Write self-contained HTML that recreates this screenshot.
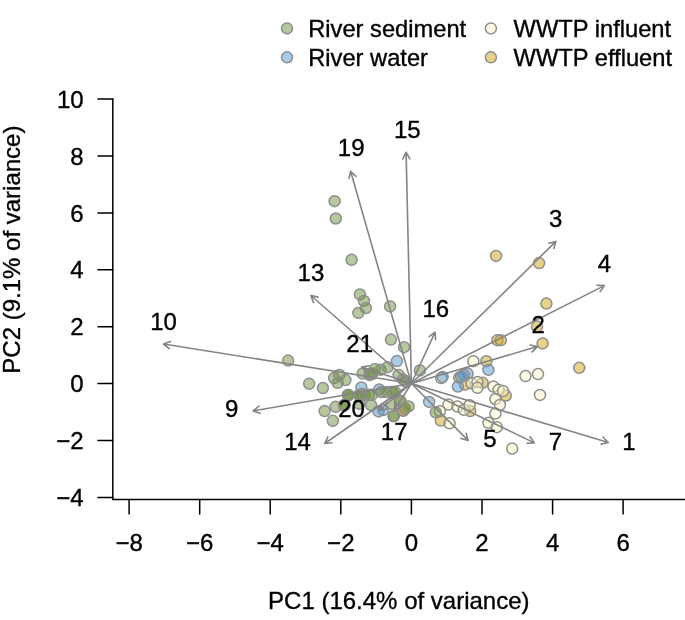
<!DOCTYPE html>
<html><head><meta charset="utf-8"><title>PCA biplot</title>
<style>html,body{margin:0;padding:0;background:#fff}svg{display:block;will-change:transform}text{font-family:"Liberation Sans", sans-serif;font-size:24px;fill:#000;stroke:#000;stroke-width:0.35px}</style></head><body>
<svg width="685" height="620" viewBox="0 0 685 620">
<rect width="685" height="620" fill="#fff"/>
<g stroke="#8e8e8e" stroke-width="1.5">
<circle cx="496.1" cy="255.9" r="5.5" fill="#d1a515" fill-opacity="0.50"/>
<circle cx="539.1" cy="263.1" r="5.5" fill="#d1a515" fill-opacity="0.50"/>
<circle cx="546.4" cy="303.6" r="5.5" fill="#d1a515" fill-opacity="0.50"/>
<circle cx="537.0" cy="326.6" r="5.5" fill="#d1a515" fill-opacity="0.50"/>
<circle cx="542.6" cy="343.4" r="5.5" fill="#d1a515" fill-opacity="0.50"/>
<circle cx="579.2" cy="367.8" r="5.5" fill="#d1a515" fill-opacity="0.50"/>
<circle cx="497.4" cy="340.2" r="5.5" fill="#d1a515" fill-opacity="0.50"/>
<circle cx="500.8" cy="340.2" r="5.5" fill="#d1a515" fill-opacity="0.50"/>
<circle cx="486.4" cy="361.2" r="5.5" fill="#d1a515" fill-opacity="0.50"/>
<circle cx="459.2" cy="377.6" r="5.5" fill="#d1a515" fill-opacity="0.50"/>
<circle cx="465.1" cy="384.6" r="5.5" fill="#d1a515" fill-opacity="0.50"/>
<circle cx="482.6" cy="382.8" r="5.5" fill="#d1a515" fill-opacity="0.50"/>
<circle cx="505.8" cy="395.6" r="5.5" fill="#d1a515" fill-opacity="0.50"/>
<circle cx="470.2" cy="411.1" r="5.5" fill="#d1a515" fill-opacity="0.50"/>
<circle cx="440.8" cy="420.6" r="5.5" fill="#d1a515" fill-opacity="0.50"/>
<circle cx="403.2" cy="410.8" r="5.5" fill="#d1a515" fill-opacity="0.50"/>
<circle cx="403.4" cy="410.4" r="5.5" fill="#d1a515" fill-opacity="0.50"/>
<circle cx="473.4" cy="361.2" r="5.5" fill="#f9f5c1" fill-opacity="0.50"/>
<circle cx="441.2" cy="378.1" r="5.5" fill="#f9f5c1" fill-opacity="0.50"/>
<circle cx="471.6" cy="383.3" r="5.5" fill="#f9f5c1" fill-opacity="0.50"/>
<circle cx="477.4" cy="382.1" r="5.5" fill="#f9f5c1" fill-opacity="0.50"/>
<circle cx="477.4" cy="387.8" r="5.5" fill="#f9f5c1" fill-opacity="0.50"/>
<circle cx="493.4" cy="386.6" r="5.5" fill="#f9f5c1" fill-opacity="0.50"/>
<circle cx="498.6" cy="389.8" r="5.5" fill="#f9f5c1" fill-opacity="0.50"/>
<circle cx="503.1" cy="391.1" r="5.5" fill="#f9f5c1" fill-opacity="0.50"/>
<circle cx="495.4" cy="399.1" r="5.5" fill="#f9f5c1" fill-opacity="0.50"/>
<circle cx="499.9" cy="404.9" r="5.5" fill="#f9f5c1" fill-opacity="0.50"/>
<circle cx="448.4" cy="404.6" r="5.5" fill="#f9f5c1" fill-opacity="0.50"/>
<circle cx="457.4" cy="406.6" r="5.5" fill="#f9f5c1" fill-opacity="0.50"/>
<circle cx="463.8" cy="409.8" r="5.5" fill="#f9f5c1" fill-opacity="0.50"/>
<circle cx="469.6" cy="405.2" r="5.5" fill="#f9f5c1" fill-opacity="0.50"/>
<circle cx="439.9" cy="411.2" r="5.5" fill="#f9f5c1" fill-opacity="0.50"/>
<circle cx="449.6" cy="423.3" r="5.5" fill="#f9f5c1" fill-opacity="0.50"/>
<circle cx="495.4" cy="413.6" r="5.5" fill="#f9f5c1" fill-opacity="0.50"/>
<circle cx="488.4" cy="422.8" r="5.5" fill="#f9f5c1" fill-opacity="0.50"/>
<circle cx="496.8" cy="427.2" r="5.5" fill="#f9f5c1" fill-opacity="0.50"/>
<circle cx="512.2" cy="448.6" r="5.5" fill="#f9f5c1" fill-opacity="0.50"/>
<circle cx="525.5" cy="376.1" r="5.5" fill="#f9f5c1" fill-opacity="0.50"/>
<circle cx="538.0" cy="374.1" r="5.5" fill="#f9f5c1" fill-opacity="0.50"/>
<circle cx="540.0" cy="394.9" r="5.5" fill="#f9f5c1" fill-opacity="0.50"/>
<circle cx="362.2" cy="394.1" r="5.5" fill="#5197d1" fill-opacity="0.50"/>
<circle cx="396.9" cy="361.1" r="5.5" fill="#5197d1" fill-opacity="0.50"/>
<circle cx="361.4" cy="387.4" r="5.5" fill="#5197d1" fill-opacity="0.50"/>
<circle cx="379.2" cy="389.4" r="5.5" fill="#5197d1" fill-opacity="0.50"/>
<circle cx="378.6" cy="411.4" r="5.5" fill="#5197d1" fill-opacity="0.50"/>
<circle cx="383.1" cy="410.1" r="5.5" fill="#5197d1" fill-opacity="0.50"/>
<circle cx="429.1" cy="401.9" r="5.5" fill="#5197d1" fill-opacity="0.50"/>
<circle cx="442.6" cy="376.9" r="5.5" fill="#5197d1" fill-opacity="0.50"/>
<circle cx="467.6" cy="373.6" r="5.5" fill="#5197d1" fill-opacity="0.50"/>
<circle cx="463.8" cy="374.9" r="5.5" fill="#5197d1" fill-opacity="0.50"/>
<circle cx="461.2" cy="376.9" r="5.5" fill="#5197d1" fill-opacity="0.50"/>
<circle cx="457.9" cy="386.6" r="5.5" fill="#5197d1" fill-opacity="0.50"/>
<circle cx="488.4" cy="369.8" r="5.5" fill="#5197d1" fill-opacity="0.50"/>
<circle cx="334.6" cy="201.2" r="5.5" fill="#6f913d" fill-opacity="0.50"/>
<circle cx="335.8" cy="218.5" r="5.5" fill="#6f913d" fill-opacity="0.50"/>
<circle cx="351.6" cy="259.8" r="5.5" fill="#6f913d" fill-opacity="0.50"/>
<circle cx="359.9" cy="294.4" r="5.5" fill="#6f913d" fill-opacity="0.50"/>
<circle cx="363.9" cy="300.9" r="5.5" fill="#6f913d" fill-opacity="0.50"/>
<circle cx="365.9" cy="308.1" r="5.5" fill="#6f913d" fill-opacity="0.50"/>
<circle cx="358.4" cy="312.9" r="5.5" fill="#6f913d" fill-opacity="0.50"/>
<circle cx="390.1" cy="306.4" r="5.5" fill="#6f913d" fill-opacity="0.50"/>
<circle cx="390.9" cy="339.6" r="5.5" fill="#6f913d" fill-opacity="0.50"/>
<circle cx="404.1" cy="347.2" r="5.5" fill="#6f913d" fill-opacity="0.50"/>
<circle cx="288.1" cy="360.6" r="5.5" fill="#6f913d" fill-opacity="0.50"/>
<circle cx="309.2" cy="383.8" r="5.5" fill="#6f913d" fill-opacity="0.50"/>
<circle cx="322.9" cy="388.1" r="5.5" fill="#6f913d" fill-opacity="0.50"/>
<circle cx="334.1" cy="378.1" r="5.5" fill="#6f913d" fill-opacity="0.50"/>
<circle cx="339.4" cy="374.9" r="5.5" fill="#6f913d" fill-opacity="0.50"/>
<circle cx="337.6" cy="382.8" r="5.5" fill="#6f913d" fill-opacity="0.50"/>
<circle cx="345.4" cy="380.1" r="5.5" fill="#6f913d" fill-opacity="0.50"/>
<circle cx="419.9" cy="370.4" r="5.5" fill="#6f913d" fill-opacity="0.50"/>
<circle cx="362.6" cy="373.6" r="5.5" fill="#6f913d" fill-opacity="0.50"/>
<circle cx="371.6" cy="374.3" r="5.5" fill="#6f913d" fill-opacity="0.50"/>
<circle cx="369.2" cy="374.9" r="5.5" fill="#6f913d" fill-opacity="0.50"/>
<circle cx="372.2" cy="373.4" r="5.5" fill="#6f913d" fill-opacity="0.50"/>
<circle cx="374.8" cy="369.1" r="5.5" fill="#6f913d" fill-opacity="0.50"/>
<circle cx="380.6" cy="369.8" r="5.5" fill="#6f913d" fill-opacity="0.50"/>
<circle cx="387.6" cy="367.2" r="5.5" fill="#6f913d" fill-opacity="0.50"/>
<circle cx="398.6" cy="374.9" r="5.5" fill="#6f913d" fill-opacity="0.50"/>
<circle cx="403.1" cy="379.4" r="5.5" fill="#6f913d" fill-opacity="0.50"/>
<circle cx="405.2" cy="381.4" r="5.5" fill="#6f913d" fill-opacity="0.50"/>
<circle cx="381.2" cy="392.1" r="5.5" fill="#6f913d" fill-opacity="0.50"/>
<circle cx="385.8" cy="392.1" r="5.5" fill="#6f913d" fill-opacity="0.50"/>
<circle cx="391.8" cy="392.1" r="5.5" fill="#6f913d" fill-opacity="0.50"/>
<circle cx="392.4" cy="391.9" r="5.5" fill="#6f913d" fill-opacity="0.50"/>
<circle cx="395.1" cy="392.1" r="5.5" fill="#6f913d" fill-opacity="0.50"/>
<circle cx="347.9" cy="394.9" r="5.5" fill="#6f913d" fill-opacity="0.50"/>
<circle cx="348.2" cy="395.3" r="5.5" fill="#6f913d" fill-opacity="0.50"/>
<circle cx="348.6" cy="395.1" r="5.5" fill="#6f913d" fill-opacity="0.50"/>
<circle cx="359.1" cy="395.1" r="5.5" fill="#6f913d" fill-opacity="0.50"/>
<circle cx="359.6" cy="395.4" r="5.5" fill="#6f913d" fill-opacity="0.50"/>
<circle cx="359.9" cy="395.1" r="5.5" fill="#6f913d" fill-opacity="0.50"/>
<circle cx="364.6" cy="395.1" r="5.5" fill="#6f913d" fill-opacity="0.50"/>
<circle cx="368.9" cy="394.8" r="5.5" fill="#6f913d" fill-opacity="0.50"/>
<circle cx="371.9" cy="394.8" r="5.5" fill="#6f913d" fill-opacity="0.50"/>
<circle cx="324.6" cy="411.1" r="5.5" fill="#6f913d" fill-opacity="0.50"/>
<circle cx="332.8" cy="420.8" r="5.5" fill="#6f913d" fill-opacity="0.50"/>
<circle cx="335.6" cy="406.8" r="5.5" fill="#6f913d" fill-opacity="0.50"/>
<circle cx="343.8" cy="405.1" r="5.5" fill="#6f913d" fill-opacity="0.50"/>
<circle cx="344.2" cy="405.6" r="5.5" fill="#6f913d" fill-opacity="0.50"/>
<circle cx="344.6" cy="405.2" r="5.5" fill="#6f913d" fill-opacity="0.50"/>
<circle cx="359.4" cy="403.8" r="5.5" fill="#6f913d" fill-opacity="0.50"/>
<circle cx="371.1" cy="405.1" r="5.5" fill="#6f913d" fill-opacity="0.50"/>
<circle cx="399.9" cy="400.8" r="5.5" fill="#6f913d" fill-opacity="0.50"/>
<circle cx="400.6" cy="401.1" r="5.5" fill="#6f913d" fill-opacity="0.50"/>
<circle cx="390.9" cy="403.8" r="5.5" fill="#6f913d" fill-opacity="0.50"/>
<circle cx="393.9" cy="415.9" r="5.5" fill="#6f913d" fill-opacity="0.50"/>
<circle cx="393.6" cy="416.3" r="5.5" fill="#6f913d" fill-opacity="0.50"/>
<circle cx="405.1" cy="408.6" r="5.5" fill="#6f913d" fill-opacity="0.50"/>
<circle cx="408.6" cy="406.4" r="5.5" fill="#6f913d" fill-opacity="0.50"/>
<circle cx="435.8" cy="412.4" r="5.5" fill="#6f913d" fill-opacity="0.50"/>
</g>
<g stroke="#848484" stroke-width="1.6" fill="none" stroke-linecap="round" stroke-linejoin="round">
<path d="M411.4 383.5L406.1 152.4M409.9 158.8L406.1 152.4L402.7 159.0"/>
<path d="M411.4 383.5L350.6 171.2M355.9 176.4L350.6 171.2L349.0 178.4"/>
<path d="M411.4 383.5L310.9 295.5M318.1 297.1L310.9 295.5L313.4 302.5"/>
<path d="M411.4 383.5L163.5 344.0M170.4 341.5L163.5 344.0L169.3 348.6"/>
<path d="M411.4 383.5L253.1 410.9M258.9 406.2L253.1 410.9L260.1 413.3"/>
<path d="M411.4 383.5L324.7 443.5M327.9 436.9L324.7 443.5L332.0 442.8"/>
<path d="M411.4 383.5L555.9 241.4M553.8 248.5L555.9 241.4L548.8 243.3"/>
<path d="M411.4 383.5L604.3 285.6M600.1 291.7L604.3 285.6L596.9 285.3"/>
<path d="M411.4 383.5L537.4 346.6M532.2 351.9L537.4 346.6L530.2 345.0"/>
<path d="M411.4 383.5L435.1 332.2M435.6 339.6L435.1 332.2L429.1 336.6"/>
<path d="M411.4 383.5L608.3 442.5M601.1 444.1L608.3 442.5L603.2 437.2"/>
<path d="M411.4 383.5L534.3 442.9M526.9 443.3L534.3 442.9L530.0 436.8"/>
<path d="M411.4 383.5L468.1 440.4M461.0 438.4L468.1 440.4L466.1 433.3"/>
<path d="M411.4 383.5L361.8 367.1M369.0 365.7L361.8 367.1L366.8 372.5"/>
<path d="M411.4 383.5L379.0 410.5M381.7 403.6L379.0 410.5L386.3 409.1"/>
<path d="M411.4 383.5L394.3 410.3M394.8 402.9L394.3 410.3L400.8 406.8"/>
</g>
<g text-anchor="middle">
<text x="407.3" y="138.0">15</text>
<text x="351.2" y="156.2">19</text>
<text x="310.9" y="281.4">13</text>
<text x="163.6" y="329.9">10</text>
<text x="231.6" y="417.1">9</text>
<text x="297.6" y="450.1">14</text>
<text x="555.8" y="227.2">3</text>
<text x="604.5" y="271.8">4</text>
<text x="538.2" y="332.7">2</text>
<text x="435.8" y="317.4">16</text>
<text x="629.0" y="449.7">1</text>
<text x="555.5" y="449.7">7</text>
<text x="490.0" y="446.9">5</text>
<text x="359.7" y="351.9">21</text>
<text x="351.6" y="416.9">20</text>
<text x="394.2" y="440.2">17</text>
</g>
<g stroke="#000" stroke-width="1.5" fill="none" stroke-linecap="round">
<path d="M112.8 99.1V499.4"/>
<path d="M112.8 499.4H690"/>
<path d="M129.1 499.4V513.9"/>
<path d="M199.7 499.4V513.9"/>
<path d="M270.2 499.4V513.9"/>
<path d="M340.8 499.4V513.9"/>
<path d="M411.4 499.4V513.9"/>
<path d="M482.0 499.4V513.9"/>
<path d="M552.6 499.4V513.9"/>
<path d="M623.1 499.4V513.9"/>
<path d="M98.0 99.1H112.8"/>
<path d="M98.0 156.0H112.8"/>
<path d="M98.0 212.9H112.8"/>
<path d="M98.0 269.8H112.8"/>
<path d="M98.0 326.7H112.8"/>
<path d="M98.0 383.6H112.8"/>
<path d="M98.0 440.5H112.8"/>
<path d="M98.0 497.4H112.8"/>
</g>
<g text-anchor="middle">
<text x="129.1" y="551.2">−8</text>
<text x="199.7" y="551.2">−6</text>
<text x="270.2" y="551.2">−4</text>
<text x="340.8" y="551.2">−2</text>
<text x="411.4" y="551.2">0</text>
<text x="482.0" y="551.2">2</text>
<text x="552.6" y="551.2">4</text>
<text x="623.1" y="551.2">6</text>
</g>
<g text-anchor="end">
<text x="83.6" y="107.7">10</text>
<text x="83.6" y="164.6">8</text>
<text x="83.6" y="221.5">6</text>
<text x="83.6" y="278.4">4</text>
<text x="83.6" y="335.3">2</text>
<text x="83.6" y="392.2">0</text>
<text x="83.6" y="449.1">−2</text>
<text x="83.6" y="506.0">−4</text>
</g>
<text x="398.8" y="608.5" text-anchor="middle">PC1 (16.4% of variance)</text>
<text transform="translate(20.3,249.6) rotate(-90)" text-anchor="middle">PC2 (9.1% of variance)</text>
<g stroke="#8e8e8e" stroke-width="1.5">
<circle cx="287.0" cy="28.4" r="5.5" fill="#6f913d" fill-opacity="0.50"/>
<circle cx="287.0" cy="57.3" r="5.5" fill="#5197d1" fill-opacity="0.50"/>
<circle cx="490.9" cy="28.4" r="5.5" fill="#f9f5c1" fill-opacity="0.50"/>
<circle cx="490.9" cy="57.3" r="5.5" fill="#d1a515" fill-opacity="0.50"/>
</g>
<text x="308.2" y="37.3" style="font-size:23.7px">River sediment</text>
<text x="308.2" y="66.2" style="font-size:23.7px">River water</text>
<text x="513.6" y="37.3" style="font-size:23.7px">WWTP influent</text>
<text x="513.6" y="66.2" style="font-size:23.7px">WWTP effluent</text>
</svg></body></html>
